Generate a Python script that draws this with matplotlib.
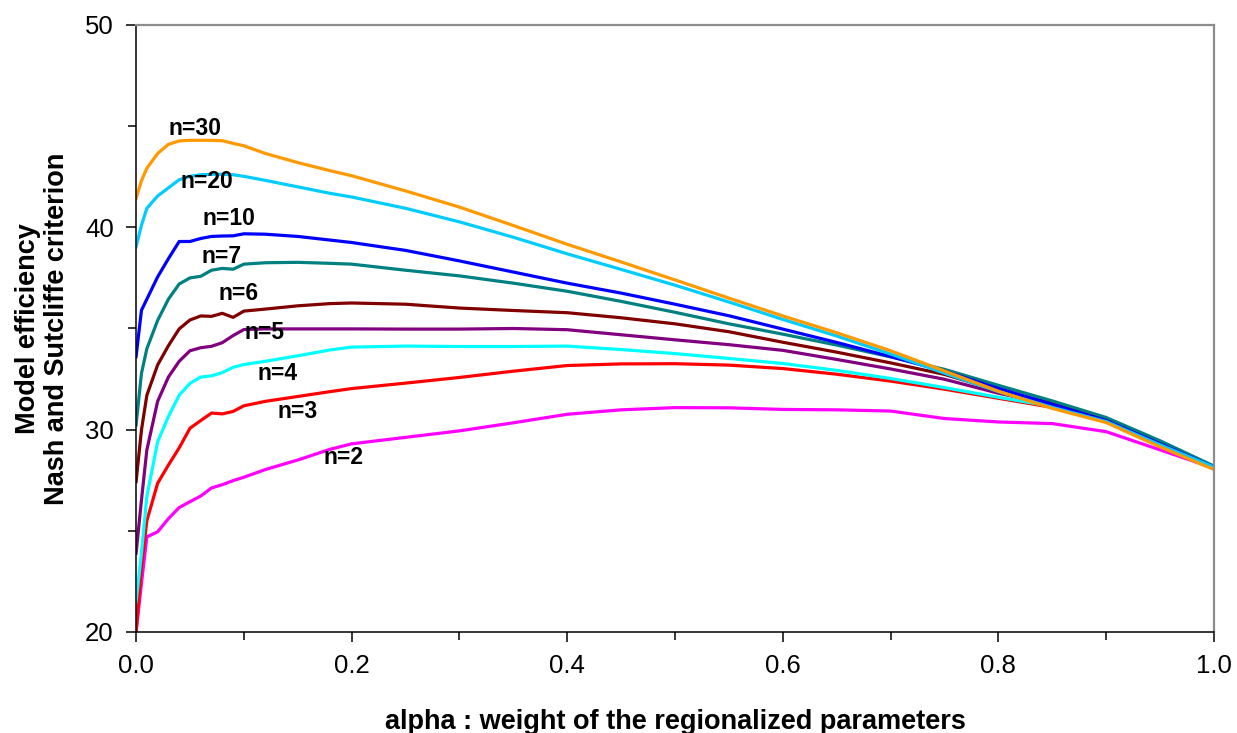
import matplotlib.pyplot as plt
from matplotlib.ticker import MultipleLocator, FormatStrFormatter

alpha = [0.0, 0.005, 0.01, 0.02, 0.03, 0.04, 0.05, 0.06, 0.07, 0.08, 0.09, 0.1,
         0.12, 0.15, 0.18, 0.2, 0.25, 0.3, 0.35, 0.4, 0.45, 0.5, 0.55, 0.6,
         0.65, 0.7, 0.75, 0.8, 0.85, 0.9, 0.95, 1.0]

n30 = [41.43, 42.3, 42.92, 43.65, 44.1, 44.27, 44.3, 44.3, 44.3, 44.28, 44.15, 44.03,
       43.65, 43.2, 42.8, 42.55, 41.8, 41.0, 40.09, 39.16, 38.29, 37.4, 36.5, 35.62,
       34.79, 33.9, 32.9, 31.9, 31.05, 30.35, 29.15, 28.03]
n20 = [39.04, 40.1, 40.94, 41.55, 41.95, 42.35, 42.52, 42.6, 42.62, 42.62, 42.6, 42.52,
       42.32, 42.0, 41.68, 41.5, 40.94, 40.27, 39.51, 38.69, 37.92, 37.14, 36.31, 35.45,
       34.63, 33.74, 32.79, 31.88, 31.1, 30.4, 29.25, 28.15]
n10 = [33.61, 35.9, 36.45, 37.55, 38.45, 39.3, 39.3, 39.45, 39.55, 39.57, 39.58, 39.68,
       39.66, 39.55, 39.37, 39.25, 38.86, 38.34, 37.79, 37.24, 36.75, 36.2, 35.63, 34.97,
       34.31, 33.61, 32.89, 32.04, 31.25, 30.45, 29.3, 28.15]
n7 = [30.23, 32.78, 34.0, 35.4, 36.45, 37.2, 37.5, 37.58, 37.88, 37.97, 37.93, 38.18,
      38.25, 38.27, 38.22, 38.18, 37.88, 37.6, 37.24, 36.84, 36.34, 35.8, 35.23, 34.72,
      34.18, 33.6, 32.98, 32.19, 31.42, 30.6, 29.45, 28.2]
n6 = [27.43, 29.98, 31.7, 33.2, 34.15, 34.98, 35.42, 35.62, 35.6, 35.75, 35.55, 35.86,
      35.96, 36.12, 36.23, 36.26, 36.2, 36.01, 35.89, 35.78, 35.53, 35.23, 34.84, 34.32,
      33.83, 33.3, 32.73, 31.94, 31.3, 30.5, 29.35, 28.15]
n5 = [23.89, 26.52, 29.0, 31.4, 32.6, 33.38, 33.9, 34.05, 34.12, 34.3, 34.65, 34.95,
      34.98, 34.98, 34.98, 34.98, 34.97, 34.97, 35.0, 34.94, 34.69, 34.44, 34.2, 33.92,
      33.47, 33.0, 32.49, 31.8, 31.25, 30.5, 29.35, 28.15]
n4 = [21.5, 23.89, 26.7, 29.4, 30.65, 31.7, 32.29, 32.6, 32.66, 32.82, 33.08, 33.22,
      33.38, 33.65, 33.94, 34.08, 34.13, 34.11, 34.11, 34.13, 33.96, 33.76, 33.52, 33.27,
      32.93, 32.53, 32.08, 31.6, 31.15, 30.45, 29.3, 28.18]
n3 = [20.0, 23.23, 25.5, 27.35, 28.25, 29.1, 30.07, 30.45, 30.82, 30.78, 30.9, 31.18,
      31.4, 31.64, 31.88, 32.03, 32.3, 32.58, 32.89, 33.17, 33.25, 33.26, 33.19, 33.02,
      32.74, 32.4, 32.0, 31.55, 31.1, 30.4, 29.3, 28.15]
n2 = [20.0, 22.4, 24.7, 24.95, 25.6, 26.15, 26.44, 26.72, 27.12, 27.28, 27.48, 27.65,
      28.03, 28.5, 29.03, 29.3, 29.62, 29.94, 30.34, 30.76, 30.98, 31.09, 31.08, 31.0,
      30.98, 30.92, 30.55, 30.38, 30.3, 29.9, 29.0, 28.1]

series = [n2, n3, n4, n5, n6, n7, n10, n20, n30]
labels = ['n=2', 'n=3', 'n=4', 'n=5', 'n=6', 'n=7', 'n=10', 'n=20', 'n=30']
colors = ['#FF00FF', '#FF0000', '#00FFFF', '#800080', '#800000', '#008080',
          '#0000FF', '#00CCFF', '#FF9900']
# where each "n=" label sits (alpha, efficiency)
label_x = [0.192, 0.150, 0.131, 0.119, 0.095, 0.079, 0.086, 0.066, 0.055]
label_y = [28.62, 30.92, 32.77, 34.8, 36.73, 38.58, 40.43, 42.26, 44.9]

plt.rcParams['font.family'] = ['Liberation Sans', 'DejaVu Sans']

fig = plt.figure(figsize=(12.37, 7.33), dpi=100)
ax = fig.add_axes([0.110, 0.1378, 0.8714, 0.8281])

for vals, col in zip(series, colors):
    ax.plot(alpha, vals, color=col, lw=2.3, solid_joinstyle='round')

for lab, lx, ly in zip(labels, label_x, label_y):
    ax.text(lx, ly, lab, fontsize=16.5, fontweight='bold', ha='center', va='center')

ax.set_xlim(0, 1)
ax.set_ylim(20, 50)
ax.xaxis.set_major_locator(MultipleLocator(0.2))
ax.xaxis.set_minor_locator(MultipleLocator(0.1))
ax.yaxis.set_major_locator(MultipleLocator(10))
ax.yaxis.set_minor_locator(MultipleLocator(5))
ax.xaxis.set_major_formatter(FormatStrFormatter('%.1f'))

ax.tick_params(which='both', direction='out', width=1.1, labelsize=18.5)
ax.tick_params(which='major', length=7)
ax.tick_params(which='minor', length=6)
ax.tick_params(axis='x', pad=9)
ax.tick_params(axis='y', pad=9)

for side in ['left', 'bottom']:
    ax.spines[side].set_color('black')
    ax.spines[side].set_linewidth(1.1)
for side in ['top', 'right']:
    ax.spines[side].set_color('#8c8c8c')
    ax.spines[side].set_linewidth(1.6)

ax.set_xlabel('alpha : weight of the regionalized parameters', fontsize=19.5,
              fontweight='bold', labelpad=22)
ax.set_ylabel('Model efficiency\nNash and Sutcliffe criterion', fontsize=19.5,
              fontweight='bold', labelpad=11, linespacing=1.15)

fig.savefig('out.png', dpi=100)
